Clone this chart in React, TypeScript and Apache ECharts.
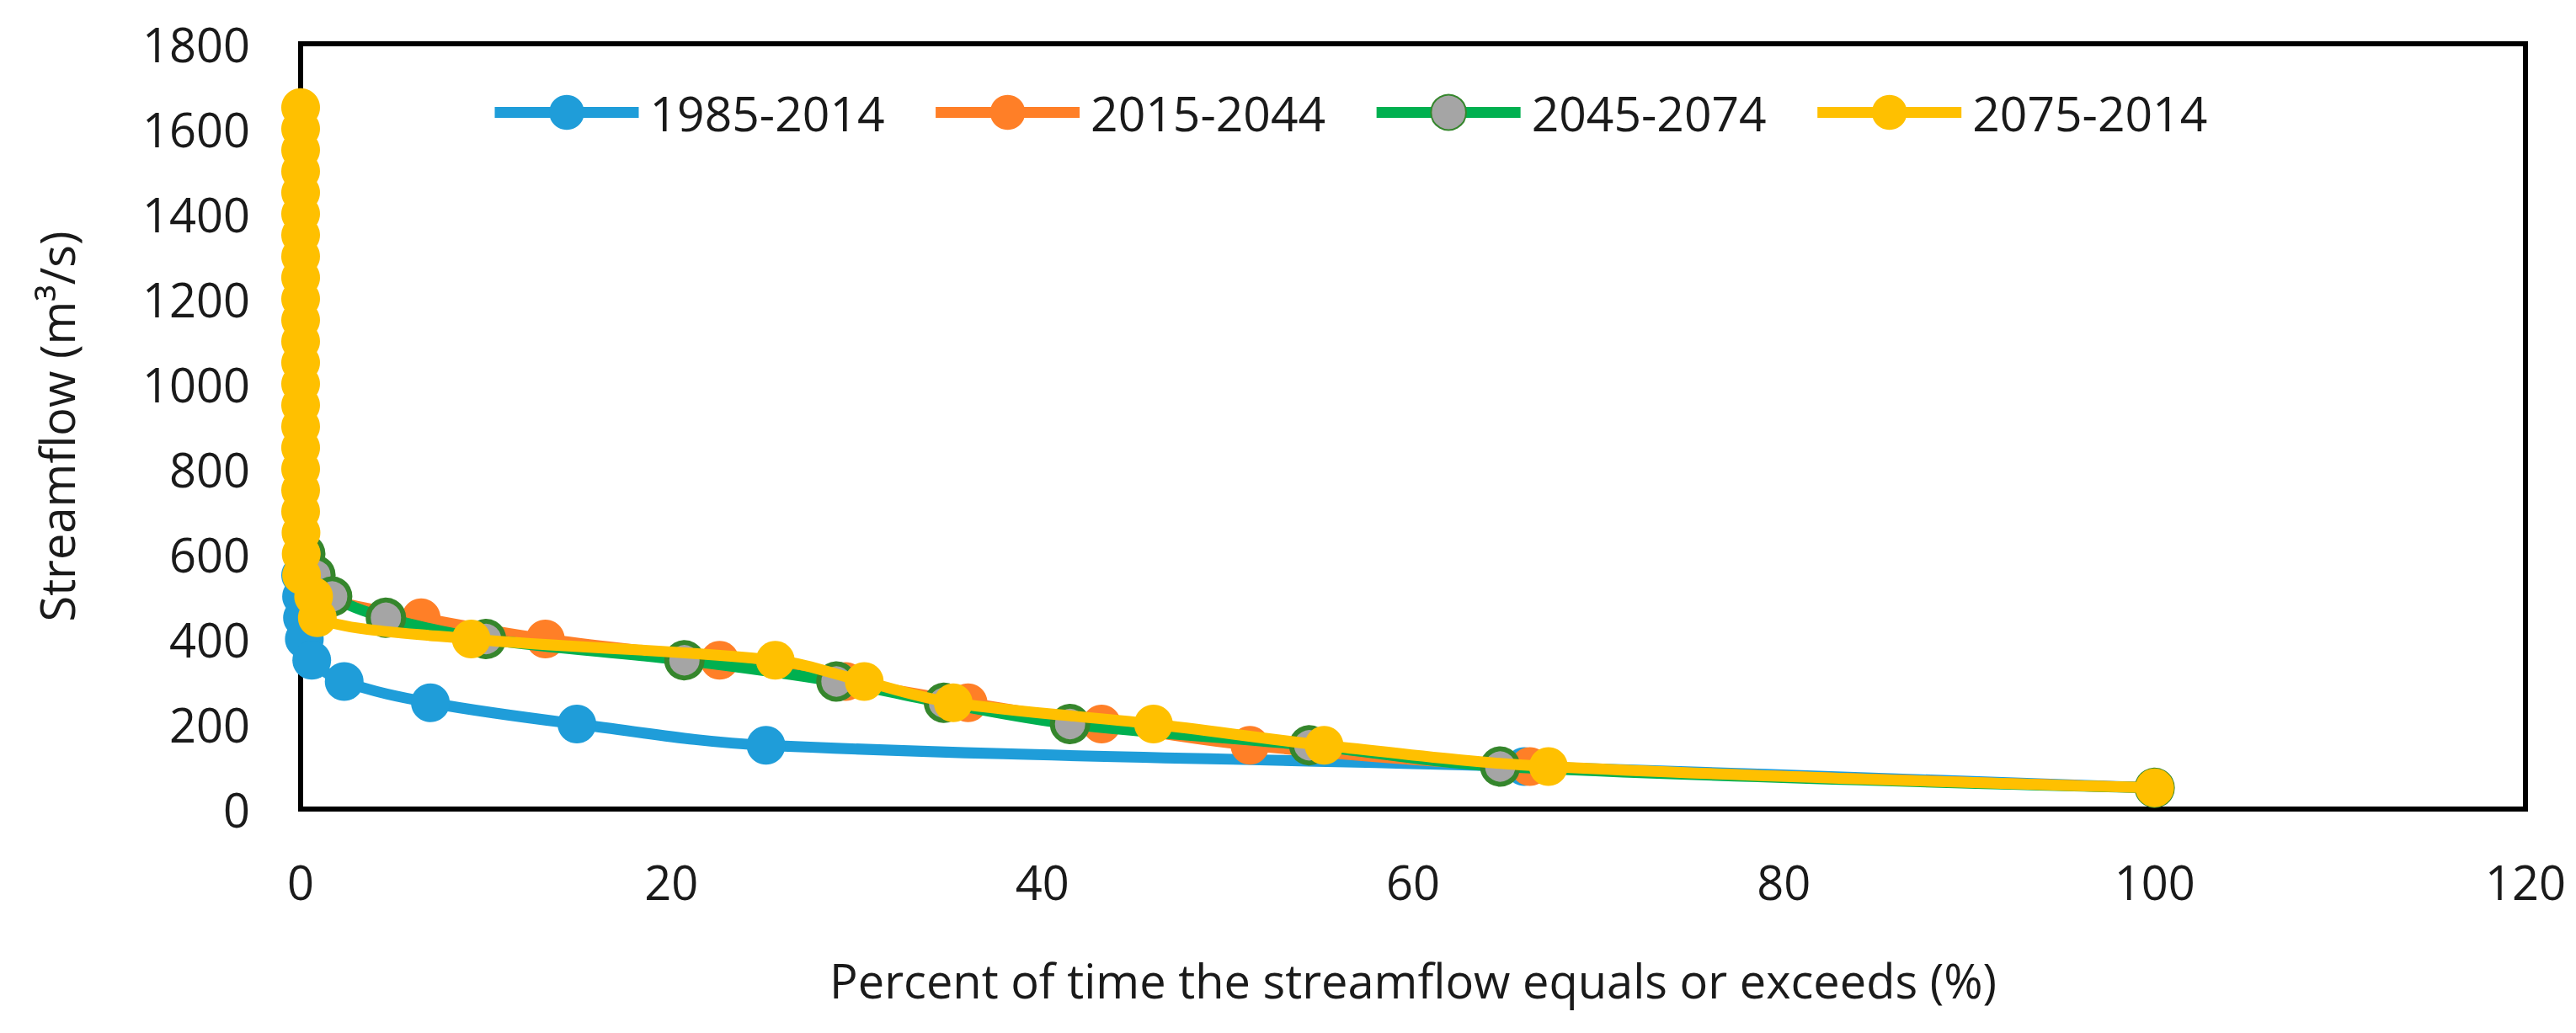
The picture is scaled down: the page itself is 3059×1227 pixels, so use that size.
import React, { useEffect, useRef } from "react";
import * as echarts from "echarts";

const seriesNames = ["1985-2014", "2015-2044", "2045-2074", "2075-2014"];

const xTicks = { min: 0, max: 120, interval: 20 };
const yTicks = { min: 0, max: 1800, interval: 200 };

// 1985-2014
const flowA = [550, 500, 450, 400, 350, 300, 250, 200, 150, 100, 50];
const pctA = [0.0, 0.05, 0.1, 0.2, 0.6, 2.35, 7.0, 14.9, 25.1, 66.0, 100];

// 2015-2044
const flowB = [600, 550, 500, 450, 400, 350, 300, 250, 200, 150, 100, 50];
const pctB = [0.1, 0.4, 1.2, 6.5, 13.2, 22.6, 29.4, 36.0, 43.2, 51.2, 66.3, 100];

// 2045-2074
const flowC = [600, 550, 500, 450, 400, 350, 300, 250, 200, 150, 100, 50];
const pctC = [0.25, 0.8, 1.7, 4.6, 10.0, 20.7, 28.9, 34.7, 41.5, 54.4, 64.7, 100];

// 2075-2014
const flowD = [
  1650, 1600, 1550, 1500, 1450, 1400, 1350, 1300, 1250, 1200, 1150, 1100, 1050, 1000, 950, 900, 850, 800,
  750, 700, 650, 600, 550, 500, 450, 400, 350, 300, 250, 200, 150, 100, 50,
];
const pctD = [
  0, 0, 0, 0, 0, 0, 0, 0, 0, 0, 0, 0, 0, 0, 0, 0, 0, 0,
  0, 0, 0.02, 0.03, 0.05, 0.7, 0.9, 9.2, 25.6, 30.4, 35.2, 46.0, 55.2, 67.3, 100,
];

const lineColors = ["#1F9DD9", "#FF7F27", "#00B050", "#FFC000"];
const markerColors = ["#1F9DD9", "#FF7F27", "#A5A5A5", "#FFC000"];
const markerBorders = ["#1F9DD9", "#FF7F27", "#35862C", "#FFC000"];

const pairs = (xs: number[], ys: number[]) => xs.map((x, i) => [x, ys[i]]);

export default function App() {
  const ref = useRef<HTMLDivElement>(null);
  useEffect(() => {
    if (!ref.current) return;
    const chart = echarts.init(ref.current, undefined, { renderer: "svg" });
    const datasets = [pairs(pctA, flowA), pairs(pctB, flowB), pairs(pctC, flowC), pairs(pctD, flowD)];
    const font = "'Open Sans', 'Noto Sans', sans-serif";
    chart.setOption({
      animation: false,
      backgroundColor: "#ffffff",
      textStyle: { fontFamily: font },
      grid: {
        left: 357,
        top: 52,
        right: 60,
        bottom: 266,
        show: true,
        borderColor: "#000000",
        borderWidth: 6,
        backgroundColor: "transparent",
      },
      legend: {
        left: 576,
        top: 100,
        itemWidth: 171,
        itemHeight: 52,
        itemGap: 54,
        data: seriesNames,
        lineStyle: { width: 13 },
        textStyle: { fontSize: 57, color: "#1a1a1a", fontFamily: font, padding: [0, 0, 0, 8] },
      },
      xAxis: {
        type: "value",
        min: xTicks.min,
        max: xTicks.max,
        interval: xTicks.interval,
        name: "Percent of time the streamflow equals or exceeds (%)",
        nameLocation: "middle",
        nameGap: 175,
        nameTextStyle: { fontSize: 56, color: "#1a1a1a", fontFamily: font },
        axisLine: { show: true, lineStyle: { color: "#000000", width: 6 } },
        axisTick: { show: false },
        splitLine: { show: false },
        axisLabel: { fontSize: 56, color: "#1a1a1a", margin: 58, fontFamily: font, formatter: (v: number) => String(v) },
      },
      yAxis: {
        type: "value",
        min: yTicks.min,
        max: yTicks.max,
        interval: yTicks.interval,
        name: "Streamflow (m³/s)",
        nameLocation: "middle",
        nameRotate: 90,
        nameGap: 262,
        nameTextStyle: { fontSize: 56, color: "#1a1a1a", fontFamily: font },
        axisLine: { show: true, lineStyle: { color: "#000000", width: 6 } },
        axisTick: { show: false },
        splitLine: { show: false },
        axisLabel: { fontSize: 56, color: "#1a1a1a", margin: 60, fontFamily: font, formatter: (v: number) => String(v) },
      },
      series: seriesNames.map((name, i) => ({
        name,
        type: "line",
        data: datasets[i],
        smooth: 0.35,
        symbol: "circle",
        symbolSize: i === 2 ? 42 : 46,
        showSymbol: true,
        lineStyle: { color: lineColors[i], width: 13 },
        itemStyle: {
          color: markerColors[i],
          borderColor: markerBorders[i],
          borderWidth: i === 2 ? 6 : 0,
        },
        z: 2 + i,
      })),
    });
    return () => chart.dispose();
  }, []);
  return (
    <div
      ref={ref}
      style={{ position: "fixed", left: 0, top: 0, width: 3059, height: 1227, background: "#fff" }}
    />
  );
}
